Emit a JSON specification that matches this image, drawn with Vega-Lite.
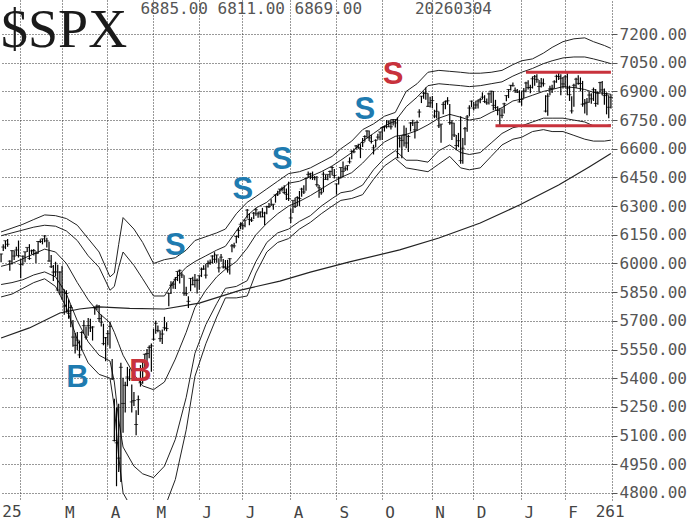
{
"$schema":"https://vega.github.io/schema/vega-lite/v6.json",
"width":612,"height":500,"autosize":{"type":"none"},"padding":{"left":0,"top":0,"right":88,"bottom":23},
"background":"white",
"config":{"view":{"stroke":null},"font":"DejaVu Sans Mono"},
"datasets":{
"px":[
{"d":"2025-01-21","h":6051,"l":6006,"c":6049},{"d":"2025-01-22","h":6100,"l":6065,"c":6086},{"d":"2025-01-23","h":6119,"l":6075,"c":6119},{"d":"2025-01-24","h":6128,"l":6088,"c":6101},{"d":"2025-01-27","h":6017,"l":5962,"c":6012},{"d":"2025-01-28","h":6069,"l":5995,"c":6067},{"d":"2025-01-29","h":6068,"l":6018,"c":6039},{"d":"2025-01-30","h":6087,"l":6040,"c":6071},{"d":"2025-01-31","h":6120,"l":6031,"c":6041},
{"d":"2025-02-03","h":6022,"l":5923,"c":5995},{"d":"2025-02-04","h":6042,"l":5990,"c":6038},{"d":"2025-02-05","h":6062,"l":6007,"c":6061},{"d":"2025-02-06","h":6084,"l":6060,"c":6084},{"d":"2025-02-07","h":6101,"l":6019,"c":6026},{"d":"2025-02-10","h":6073,"l":6048,"c":6066},{"d":"2025-02-11","h":6076,"l":6042,"c":6068},{"d":"2025-02-12","h":6064,"l":6003,"c":6052},{"d":"2025-02-13","h":6116,"l":6051,"c":6115},{"d":"2025-02-14","h":6127,"l":6107,"c":6115},{"d":"2025-02-18","h":6129,"l":6100,"c":6129},{"d":"2025-02-19","h":6147,"l":6111,"c":6144},{"d":"2025-02-20","h":6134,"l":6084,"c":6118},{"d":"2025-02-21","h":6114,"l":6009,"c":6013},{"d":"2025-02-24","h":6044,"l":5977,"c":5983},{"d":"2025-02-25","h":5992,"l":5909,"c":5955},{"d":"2025-02-26","h":6009,"l":5933,"c":5956},{"d":"2025-02-27","h":5994,"l":5858,"c":5861},{"d":"2025-02-28","h":5959,"l":5837,"c":5955},
{"d":"2025-03-03","h":5987,"l":5810,"c":5850},{"d":"2025-03-04","h":5865,"l":5732,"c":5778},{"d":"2025-03-05","h":5860,"l":5743,"c":5843},{"d":"2025-03-06","h":5812,"l":5711,"c":5739},{"d":"2025-03-07","h":5783,"l":5667,"c":5770},{"d":"2025-03-10","h":5705,"l":5565,"c":5615},{"d":"2025-03-11","h":5636,"l":5529,"c":5572},{"d":"2025-03-12","h":5642,"l":5546,"c":5599},{"d":"2025-03-13","h":5597,"l":5505,"c":5522},{"d":"2025-03-14","h":5645,"l":5546,"c":5639},{"d":"2025-03-17","h":5703,"l":5632,"c":5675},{"d":"2025-03-18","h":5670,"l":5602,"c":5615},{"d":"2025-03-19","h":5715,"l":5622,"c":5675},{"d":"2025-03-20","h":5711,"l":5641,"c":5663},{"d":"2025-03-21","h":5672,"l":5597,"c":5668},{"d":"2025-03-24","h":5775,"l":5732,"c":5768},{"d":"2025-03-25","h":5786,"l":5757,"c":5777},{"d":"2025-03-26","h":5783,"l":5695,"c":5712},{"d":"2025-03-27","h":5732,"l":5670,"c":5693},{"d":"2025-03-28","h":5685,"l":5572,"c":5581},{"d":"2025-03-31","h":5615,"l":5489,"c":5612},
{"d":"2025-04-01","h":5651,"l":5572,"c":5633},{"d":"2025-04-02","h":5695,"l":5555,"c":5671},{"d":"2025-04-03","h":5500,"l":5390,"c":5397},{"d":"2025-04-04","h":5292,"l":5069,"c":5074},{"d":"2025-04-07","h":5247,"l":4835,"c":5062},{"d":"2025-04-08","h":5267,"l":4910,"c":4982},{"d":"2025-04-09","h":5481,"l":4857,"c":5457},{"d":"2025-04-10","h":5402,"l":5115,"c":5268},{"d":"2025-04-11","h":5381,"l":5220,"c":5363},{"d":"2025-04-14","h":5459,"l":5358,"c":5406},{"d":"2025-04-15","h":5450,"l":5386,"c":5397},{"d":"2025-04-16","h":5367,"l":5220,"c":5276},{"d":"2025-04-17","h":5328,"l":5255,"c":5283},{"d":"2025-04-21","h":5232,"l":5101,"c":5158},{"d":"2025-04-22","h":5309,"l":5207,"c":5288},{"d":"2025-04-23","h":5469,"l":5356,"c":5376},{"d":"2025-04-24","h":5489,"l":5371,"c":5485},{"d":"2025-04-25","h":5528,"l":5455,"c":5525},{"d":"2025-04-28","h":5553,"l":5468,"c":5529},{"d":"2025-04-29","h":5571,"l":5505,"c":5561},{"d":"2025-04-30","h":5581,"l":5434,"c":5569},
{"d":"2025-05-01","h":5658,"l":5597,"c":5604},{"d":"2025-05-02","h":5700,"l":5632,"c":5687},{"d":"2025-05-05","h":5676,"l":5640,"c":5650},{"d":"2025-05-06","h":5649,"l":5590,"c":5607},{"d":"2025-05-07","h":5655,"l":5579,"c":5631},{"d":"2025-05-08","h":5721,"l":5649,"c":5664},{"d":"2025-05-09","h":5692,"l":5645,"c":5660},{"d":"2025-05-12","h":5845,"l":5776,"c":5844},{"d":"2025-05-13","h":5907,"l":5840,"c":5886},{"d":"2025-05-14","h":5906,"l":5868,"c":5892},{"d":"2025-05-15","h":5929,"l":5867,"c":5917},{"d":"2025-05-16","h":5958,"l":5908,"c":5958},{"d":"2025-05-19","h":5969,"l":5895,"c":5964},{"d":"2025-05-20","h":5954,"l":5924,"c":5940},{"d":"2025-05-21","h":5938,"l":5831,"c":5845},{"d":"2025-05-22","h":5878,"l":5830,"c":5842},{"d":"2025-05-23","h":5829,"l":5767,"c":5802},{"d":"2025-05-27","h":5924,"l":5855,"c":5922},{"d":"2025-05-28","h":5930,"l":5886,"c":5889},{"d":"2025-05-29","h":5945,"l":5874,"c":5912},{"d":"2025-05-30","h":5922,"l":5843,"c":5912},
{"d":"2025-06-02","h":5937,"l":5862,"c":5936},{"d":"2025-06-03","h":5979,"l":5929,"c":5970},{"d":"2025-06-04","h":5991,"l":5967,"c":5971},{"d":"2025-06-05","h":5999,"l":5921,"c":5939},{"d":"2025-06-06","h":6016,"l":5979,"c":6000},{"d":"2025-06-09","h":6021,"l":5993,"c":6006},{"d":"2025-06-10","h":6043,"l":6000,"c":6039},{"d":"2025-06-11","h":6059,"l":6003,"c":6022},{"d":"2025-06-12","h":6045,"l":6004,"c":6045},{"d":"2025-06-13","h":6027,"l":5953,"c":5977},{"d":"2025-06-16","h":6050,"l":6009,"c":6033},{"d":"2025-06-17","h":6024,"l":5974,"c":5982},{"d":"2025-06-18","h":6018,"l":5971,"c":5981},{"d":"2025-06-20","h":6019,"l":5952,"c":5967},{"d":"2025-06-23","h":6028,"l":5943,"c":6025},{"d":"2025-06-24","h":6102,"l":6059,"c":6092},{"d":"2025-06-25","h":6108,"l":6080,"c":6092},{"d":"2025-06-26","h":6146,"l":6106,"c":6141},{"d":"2025-06-27","h":6187,"l":6133,"c":6173},{"d":"2025-06-30","h":6216,"l":6179,"c":6205},
{"d":"2025-07-01","h":6210,"l":6178,"c":6198},{"d":"2025-07-02","h":6228,"l":6190,"c":6227},{"d":"2025-07-03","h":6285,"l":6235,"c":6279},{"d":"2025-07-07","h":6263,"l":6200,"c":6230},{"d":"2025-07-08","h":6242,"l":6217,"c":6226},{"d":"2025-07-09","h":6269,"l":6233,"c":6263},{"d":"2025-07-10","h":6290,"l":6249,"c":6281},{"d":"2025-07-11","h":6270,"l":6239,"c":6260},{"d":"2025-07-14","h":6272,"l":6241,"c":6269},{"d":"2025-07-15","h":6291,"l":6242,"c":6244},{"d":"2025-07-16","h":6270,"l":6201,"c":6264},{"d":"2025-07-17","h":6302,"l":6258,"c":6297},{"d":"2025-07-18","h":6316,"l":6290,"c":6297},{"d":"2025-07-21","h":6336,"l":6302,"c":6306},{"d":"2025-07-22","h":6310,"l":6281,"c":6310},{"d":"2025-07-23","h":6360,"l":6318,"c":6359},{"d":"2025-07-24","h":6381,"l":6353,"c":6363},{"d":"2025-07-25","h":6390,"l":6364,"c":6389},{"d":"2025-07-28","h":6401,"l":6377,"c":6390},{"d":"2025-07-29","h":6409,"l":6364,"c":6371},{"d":"2025-07-30","h":6392,"l":6332,"c":6362},{"d":"2025-07-31","h":6428,"l":6327,"c":6339},
{"d":"2025-08-01","h":6288,"l":6212,"c":6238},{"d":"2025-08-04","h":6330,"l":6264,"c":6330},{"d":"2025-08-05","h":6344,"l":6290,"c":6299},{"d":"2025-08-06","h":6352,"l":6301,"c":6345},{"d":"2025-08-07","h":6379,"l":6301,"c":6340},{"d":"2025-08-08","h":6396,"l":6349,"c":6389},{"d":"2025-08-11","h":6409,"l":6364,"c":6374},{"d":"2025-08-12","h":6446,"l":6380,"c":6446},{"d":"2025-08-13","h":6481,"l":6447,"c":6466},{"d":"2025-08-14","h":6474,"l":6441,"c":6469},{"d":"2025-08-15","h":6481,"l":6437,"c":6450},{"d":"2025-08-18","h":6457,"l":6435,"c":6449},{"d":"2025-08-19","h":6457,"l":6401,"c":6412},{"d":"2025-08-20","h":6410,"l":6344,"c":6396},{"d":"2025-08-21","h":6393,"l":6360,"c":6370},{"d":"2025-08-22","h":6481,"l":6373,"c":6467},{"d":"2025-08-25","h":6466,"l":6438,"c":6440},{"d":"2025-08-26","h":6466,"l":6435,"c":6466},{"d":"2025-08-27","h":6486,"l":6448,"c":6481},{"d":"2025-08-28","h":6508,"l":6462,"c":6502},{"d":"2025-08-29","h":6494,"l":6444,"c":6460},
{"d":"2025-09-02","h":6418,"l":6360,"c":6416},{"d":"2025-09-03","h":6455,"l":6413,"c":6448},{"d":"2025-09-04","h":6502,"l":6445,"c":6502},{"d":"2025-09-05","h":6533,"l":6450,"c":6482},{"d":"2025-09-08","h":6508,"l":6484,"c":6495},{"d":"2025-09-09","h":6513,"l":6486,"c":6512},{"d":"2025-09-10","h":6555,"l":6522,"c":6532},{"d":"2025-09-11","h":6592,"l":6545,"c":6587},{"d":"2025-09-12","h":6601,"l":6577,"c":6584},{"d":"2025-09-15","h":6619,"l":6596,"c":6615},{"d":"2025-09-16","h":6626,"l":6600,"c":6606},{"d":"2025-09-17","h":6624,"l":6551,"c":6600},{"d":"2025-09-18","h":6656,"l":6609,"c":6632},{"d":"2025-09-19","h":6671,"l":6637,"c":6664},{"d":"2025-09-22","h":6697,"l":6658,"c":6693},{"d":"2025-09-23","h":6696,"l":6640,"c":6657},{"d":"2025-09-24","h":6673,"l":6627,"c":6638},{"d":"2025-09-25","h":6621,"l":6570,"c":6605},{"d":"2025-09-26","h":6650,"l":6608,"c":6644},{"d":"2025-09-29","h":6679,"l":6647,"c":6661},{"d":"2025-09-30","h":6689,"l":6644,"c":6688},
{"d":"2025-10-01","h":6715,"l":6646,"c":6711},{"d":"2025-10-02","h":6720,"l":6690,"c":6715},{"d":"2025-10-03","h":6750,"l":6706,"c":6716},{"d":"2025-10-06","h":6749,"l":6712,"c":6740},{"d":"2025-10-07","h":6754,"l":6701,"c":6715},{"d":"2025-10-08","h":6756,"l":6721,"c":6753},{"d":"2025-10-09","h":6756,"l":6711,"c":6735},{"d":"2025-10-10","h":6764,"l":6551,"c":6553},{"d":"2025-10-13","h":6665,"l":6606,"c":6655},{"d":"2025-10-14","h":6670,"l":6550,"c":6644},{"d":"2025-10-15","h":6722,"l":6612,"c":6671},{"d":"2025-10-16","h":6710,"l":6603,"c":6630},{"d":"2025-10-17","h":6673,"l":6583,"c":6664},{"d":"2025-10-20","h":6740,"l":6690,"c":6735},{"d":"2025-10-21","h":6752,"l":6719,"c":6735},{"d":"2025-10-22","h":6741,"l":6653,"c":6699},{"d":"2025-10-23","h":6747,"l":6695,"c":6738},{"d":"2025-10-24","h":6807,"l":6763,"c":6792},{"d":"2025-10-27","h":6876,"l":6839,"c":6875},{"d":"2025-10-28","h":6899,"l":6862,"c":6891},{"d":"2025-10-29","h":6920,"l":6856,"c":6890},{"d":"2025-10-30","h":6890,"l":6819,"c":6822},{"d":"2025-10-31","h":6872,"l":6816,"c":6840},
{"d":"2025-11-03","h":6876,"l":6813,"c":6852},{"d":"2025-11-04","h":6804,"l":6760,"c":6771},{"d":"2025-11-05","h":6839,"l":6758,"c":6796},{"d":"2025-11-06","h":6795,"l":6708,"c":6720},{"d":"2025-11-07","h":6730,"l":6631,"c":6729},{"d":"2025-11-10","h":6845,"l":6780,"c":6832},{"d":"2025-11-11","h":6852,"l":6807,"c":6846},{"d":"2025-11-12","h":6870,"l":6830,"c":6851},{"d":"2025-11-13","h":6834,"l":6726,"c":6737},{"d":"2025-11-14","h":6750,"l":6646,"c":6734},{"d":"2025-11-17","h":6736,"l":6662,"c":6672},{"d":"2025-11-18","h":6672,"l":6592,"c":6617},{"d":"2025-11-19","h":6683,"l":6608,"c":6642},{"d":"2025-11-20","h":6770,"l":6522,"c":6538},{"d":"2025-11-21","h":6656,"l":6522,"c":6603},{"d":"2025-11-24","h":6714,"l":6618,"c":6705},{"d":"2025-11-25","h":6776,"l":6689,"c":6766},{"d":"2025-11-26","h":6828,"l":6770,"c":6813},{"d":"2025-11-28","h":6852,"l":6818,"c":6849},
{"d":"2025-12-01","h":6844,"l":6800,"c":6813},{"d":"2025-12-02","h":6851,"l":6809,"c":6829},{"d":"2025-12-03","h":6857,"l":6810,"c":6850},{"d":"2025-12-04","h":6866,"l":6838,"c":6857},{"d":"2025-12-05","h":6895,"l":6858,"c":6870},{"d":"2025-12-08","h":6880,"l":6840,"c":6847},{"d":"2025-12-09","h":6863,"l":6830,"c":6840},{"d":"2025-12-10","h":6894,"l":6832,"c":6887},{"d":"2025-12-11","h":6903,"l":6839,"c":6901},{"d":"2025-12-12","h":6902,"l":6801,"c":6827},{"d":"2025-12-15","h":6856,"l":6804,"c":6816},{"d":"2025-12-16","h":6822,"l":6775,"c":6800},{"d":"2025-12-17","h":6810,"l":6718,"c":6721},{"d":"2025-12-18","h":6811,"l":6760,"c":6775},{"d":"2025-12-19","h":6840,"l":6785,"c":6835},{"d":"2025-12-22","h":6880,"l":6848,"c":6878},{"d":"2025-12-23","h":6911,"l":6865,"c":6910},{"d":"2025-12-24","h":6934,"l":6905,"c":6932},{"d":"2025-12-26","h":6946,"l":6925,"c":6930},{"d":"2025-12-29","h":6920,"l":6893,"c":6905},{"d":"2025-12-30","h":6912,"l":6892,"c":6896},{"d":"2025-12-31","h":6906,"l":6842,"c":6845},
{"d":"2026-01-02","h":6901,"l":6825,"c":6858},{"d":"2026-01-05","h":6918,"l":6865,"c":6902},{"d":"2026-01-06","h":6950,"l":6895,"c":6944},{"d":"2026-01-07","h":6958,"l":6910,"c":6920},{"d":"2026-01-08","h":6935,"l":6890,"c":6921},{"d":"2026-01-09","h":6978,"l":6915,"c":6966},{"d":"2026-01-12","h":6986,"l":6930,"c":6977},{"d":"2026-01-13","h":6990,"l":6945,"c":6963},{"d":"2026-01-14","h":6960,"l":6895,"c":6926},{"d":"2026-01-15","h":6970,"l":6920,"c":6944},{"d":"2026-01-16","h":6968,"l":6925,"c":6940},{"d":"2026-01-20","h":6880,"l":6790,"c":6797},{"d":"2026-01-21","h":6890,"l":6772,"c":6875},{"d":"2026-01-22","h":6930,"l":6880,"c":6913},{"d":"2026-01-23","h":6935,"l":6892,"c":6916},{"d":"2026-01-26","h":6958,"l":6915,"c":6950},{"d":"2026-01-27","h":6988,"l":6945,"c":6979},{"d":"2026-01-28","h":7002,"l":6960,"c":6978},{"d":"2026-01-29","h":6990,"l":6880,"c":6969},{"d":"2026-01-30","h":6975,"l":6915,"c":6939},
{"d":"2026-02-02","h":6985,"l":6920,"c":6976},{"d":"2026-02-03","h":6995,"l":6880,"c":6917},{"d":"2026-02-04","h":6930,"l":6850,"c":6883},{"d":"2026-02-05","h":6875,"l":6785,"c":6798},{"d":"2026-02-06","h":6940,"l":6820,"c":6932},{"d":"2026-02-09","h":6972,"l":6918,"c":6964},{"d":"2026-02-10","h":6985,"l":6935,"c":6942},{"d":"2026-02-11","h":6973,"l":6900,"c":6941},{"d":"2026-02-12","h":6955,"l":6820,"c":6833},{"d":"2026-02-13","h":6860,"l":6785,"c":6836},{"d":"2026-02-17","h":6865,"l":6775,"c":6843},{"d":"2026-02-18","h":6900,"l":6840,"c":6881},{"d":"2026-02-19","h":6890,"l":6835,"c":6861},{"d":"2026-02-20","h":6920,"l":6850,"c":6909},{"d":"2026-02-23","h":6912,"l":6820,"c":6837},{"d":"2026-02-24","h":6900,"l":6830,"c":6890},{"d":"2026-02-25","h":6950,"l":6895,"c":6946},{"d":"2026-02-26","h":6955,"l":6880,"c":6908},{"d":"2026-02-27","h":6915,"l":6830,"c":6878},
{"d":"2026-03-02","h":6895,"l":6780,"c":6881},{"d":"2026-03-03","h":6880,"l":6760,"c":6817},{"d":"2026-03-04","h":6885,"l":6811,"c":6869}
],
"bb":[
{"d":"2025-01-21","u2":6165,"u1":6145,"m":5985,"l1":5890,"l2":5825},
{"d":"2025-01-28","u2":6185,"u1":6160,"m":6000,"l1":5900,"l2":5840},
{"d":"2025-02-04","u2":6205,"u1":6175,"m":6025,"l1":5915,"l2":5870},
{"d":"2025-02-11","u2":6230,"u1":6190,"m":6050,"l1":5940,"l2":5900},
{"d":"2025-02-19","u2":6254,"u1":6200,"m":6075,"l1":5956,"l2":5920},
{"d":"2025-02-26","u2":6250,"u1":6195,"m":6060,"l1":5930,"l2":5880},
{"d":"2025-03-05","u2":6235,"u1":6170,"m":6000,"l1":5840,"l2":5770},
{"d":"2025-03-12","u2":6200,"u1":6120,"m":5900,"l1":5700,"l2":5600},
{"d":"2025-03-19","u2":6130,"u1":6040,"m":5810,"l1":5590,"l2":5480},
{"d":"2025-03-26","u2":6060,"u1":5980,"m":5740,"l1":5520,"l2":5420},
{"d":"2025-04-02","u2":5930,"u1":5860,"m":5690,"l1":5490,"l2":5400},
{"d":"2025-04-04","u2":5950,"u1":5880,"m":5640,"l1":5380,"l2":5250},
{"d":"2025-04-08","u2":6100,"u1":5980,"m":5580,"l1":5180,"l2":4990},
{"d":"2025-04-10","u2":6240,"u1":6060,"m":5520,"l1":5040,"l2":4800},
{"d":"2025-04-17","u2":6180,"u1":5990,"m":5420,"l1":4940,"l2":4700},
{"d":"2025-04-24","u2":6110,"u1":5920,"m":5360,"l1":4900,"l2":4680},
{"d":"2025-05-01","u2":6000,"u1":5830,"m":5340,"l1":4880,"l2":4650},
{"d":"2025-05-08","u2":6020,"u1":5830,"m":5380,"l1":4940,"l2":4720},
{"d":"2025-05-15","u2":6030,"u1":5920,"m":5500,"l1":5080,"l2":4870},
{"d":"2025-05-22","u2":6070,"u1":5980,"m":5640,"l1":5300,"l2":5130},
{"d":"2025-05-29","u2":6120,"u1":6010,"m":5770,"l1":5530,"l2":5410},
{"d":"2025-06-05","u2":6140,"u1":6040,"m":5860,"l1":5680,"l2":5580},
{"d":"2025-06-12","u2":6160,"u1":6070,"m":5930,"l1":5790,"l2":5720},
{"d":"2025-06-18","u2":6180,"u1":6090,"m":5970,"l1":5870,"l2":5820},
{"d":"2025-06-26","u2":6260,"u1":6170,"m":6010,"l1":5880,"l2":5820},
{"d":"2025-07-03","u2":6320,"u1":6250,"m":6080,"l1":5910,"l2":5830},
{"d":"2025-07-10","u2":6350,"u1":6290,"m":6150,"l1":6010,"l2":5950},
{"d":"2025-07-17","u2":6390,"u1":6320,"m":6210,"l1":6110,"l2":6060},
{"d":"2025-07-24","u2":6430,"u1":6370,"m":6260,"l1":6160,"l2":6110},
{"d":"2025-07-31","u2":6470,"u1":6420,"m":6300,"l1":6180,"l2":6130},
{"d":"2025-08-07","u2":6480,"u1":6430,"m":6325,"l1":6220,"l2":6180},
{"d":"2025-08-14","u2":6500,"u1":6455,"m":6355,"l1":6250,"l2":6215},
{"d":"2025-08-21","u2":6530,"u1":6480,"m":6390,"l1":6300,"l2":6260},
{"d":"2025-08-28","u2":6560,"u1":6510,"m":6425,"l1":6340,"l2":6300},
{"d":"2025-09-04","u2":6600,"u1":6540,"m":6450,"l1":6370,"l2":6330},
{"d":"2025-09-11","u2":6640,"u1":6580,"m":6475,"l1":6380,"l2":6340},
{"d":"2025-09-18","u2":6700,"u1":6640,"m":6525,"l1":6410,"l2":6360},
{"d":"2025-09-25","u2":6730,"u1":6680,"m":6585,"l1":6490,"l2":6440},
{"d":"2025-10-02","u2":6770,"u1":6720,"m":6635,"l1":6550,"l2":6510},
{"d":"2025-10-09","u2":6790,"u1":6745,"m":6665,"l1":6590,"l2":6550},
{"d":"2025-10-16","u2":6900,"u1":6820,"m":6675,"l1":6540,"l2":6500},
{"d":"2025-10-23","u2":6940,"u1":6870,"m":6695,"l1":6540,"l2":6490},
{"d":"2025-10-30","u2":7000,"u1":6930,"m":6725,"l1":6530,"l2":6480},
{"d":"2025-11-06","u2":7010,"u1":6940,"m":6760,"l1":6590,"l2":6520},
{"d":"2025-11-13","u2":7005,"u1":6935,"m":6780,"l1":6620,"l2":6560},
{"d":"2025-11-20","u2":7000,"u1":6930,"m":6765,"l1":6580,"l2":6500},
{"d":"2025-11-26","u2":6995,"u1":6925,"m":6750,"l1":6570,"l2":6490},
{"d":"2025-12-04","u2":6995,"u1":6930,"m":6760,"l1":6580,"l2":6500},
{"d":"2025-12-11","u2":7000,"u1":6940,"m":6790,"l1":6630,"l2":6560},
{"d":"2025-12-18","u2":7010,"u1":6950,"m":6815,"l1":6680,"l2":6620},
{"d":"2025-12-26","u2":7040,"u1":6980,"m":6850,"l1":6710,"l2":6650},
{"d":"2026-01-02","u2":7060,"u1":7000,"m":6860,"l1":6720,"l2":6660},
{"d":"2026-01-09","u2":7070,"u1":7020,"m":6880,"l1":6740,"l2":6690},
{"d":"2026-01-16","u2":7100,"u1":7045,"m":6900,"l1":6760,"l2":6700},
{"d":"2026-01-23","u2":7130,"u1":7060,"m":6910,"l1":6760,"l2":6690},
{"d":"2026-01-30","u2":7160,"u1":7075,"m":6925,"l1":6760,"l2":6690},
{"d":"2026-02-06","u2":7175,"u1":7080,"m":6920,"l1":6750,"l2":6670},
{"d":"2026-02-13","u2":7180,"u1":7080,"m":6910,"l1":6740,"l2":6650},
{"d":"2026-02-20","u2":7160,"u1":7070,"m":6895,"l1":6720,"l2":6640},
{"d":"2026-02-27","u2":7140,"u1":7055,"m":6890,"l1":6720,"l2":6640},
{"d":"2026-03-04","u2":7125,"u1":7045,"m":6885,"l1":6725,"l2":6645}
],
"ma":[
{"d":"2025-01-21","v":5610},{"d":"2025-02-07","v":5663},{"d":"2025-02-28","v":5741},{"d":"2025-03-13","v":5762},{"d":"2025-03-26","v":5773},{"d":"2025-04-15","v":5765},{"d":"2025-05-08","v":5762},{"d":"2025-06-02","v":5793},{"d":"2025-06-30","v":5861},{"d":"2025-07-25","v":5908},{"d":"2025-08-14","v":5955},{"d":"2025-09-10","v":6008},{"d":"2025-10-13","v":6071},{"d":"2025-11-06","v":6133},{"d":"2025-12-04","v":6212},{"d":"2025-12-31","v":6306},{"d":"2026-01-28","v":6410},{"d":"2026-02-18","v":6505},{"d":"2026-03-04","v":6575}
],
"sig":[
{"d":"2025-03-12","v":5400,"t":"B","k":"mBB"},{"d":"2025-04-23","v":5433,"t":"B","k":"other"},{"d":"2025-05-15","v":6092,"t":"S","k":"mBB"},{"d":"2025-07-01","v":6384,"t":"S","k":"mBB"},{"d":"2025-07-28","v":6541,"t":"S","k":"mBB"},{"d":"2025-09-19","v":6803,"t":"S","k":"mBB"},{"d":"2025-10-08","v":6986,"t":"S","k":"other"}
],
"red":[
{"d":"2026-01-06","v":7000,"g":"top"},{"d":"2026-03-04","v":7000,"g":"top"},{"d":"2025-12-15","v":6720,"g":"bottom"},{"d":"2026-03-04","v":6720,"g":"bottom"}
]
},
"encoding":{
"x":{"field":"d","type":"ordinal","title":null,"scale":{"padding":0},
"axis":{"title":null,"tickCount":30,"values":["2025-02-03","2025-03-03","2025-04-01","2025-05-01","2025-06-02","2025-07-01","2025-08-01","2025-09-02","2025-10-01","2025-11-03","2025-12-01","2026-01-02","2026-02-02"],
"labelExpr":"datum.value == '2025-02-03' ? '' : ['J','F','M','A','M','J','J','A','S','O','N','D'][toNumber(substring(datum.value,5,7))-1]",
"labelAngle":0,"labelAlign":"left","labelBaseline":"top","labelPadding":4,"labelOffset":3,"labelOverlap":false,"labelFont":"DejaVu Sans Mono","labelFontSize":16,"labelColor":"#444",
"grid":true,"gridDash":[1,2],"gridColor":"#333","gridWidth":1,"domain":false,"ticks":false}}
},
"layer":[
{"data":{"name":"bb"},"mark":{"type":"line","color":"#222","strokeWidth":1},
 "encoding":{"y":{"field":"u2","type":"quantitative","title":null,"scale":{"domain":[4763,7378],"nice":false,"zero":false},
 "axis":{"title":null,"orient":"right","tickCount":40,"values":[4800,4950,5100,5250,5400,5550,5700,5850,6000,6150,6300,6450,6600,6750,6900,7050,7200],"format":".2f","labelOverlap":false,"labelFont":"DejaVu Sans Mono","labelFontSize":16,"labelColor":"#555","labelPadding":2,"tickSize":5,"tickColor":"#555","domain":true,"domainDash":[1,2],"domainColor":"#333","grid":true,"gridDash":[1,2],"gridColor":"#333","gridWidth":1}}}},
{"data":{"name":"bb"},"mark":{"type":"line","color":"#222","strokeWidth":1},"encoding":{"y":{"field":"u1","type":"quantitative","title":null}}},
{"data":{"name":"bb"},"mark":{"type":"line","color":"#222","strokeWidth":1},"encoding":{"y":{"field":"m","type":"quantitative","title":null}}},
{"data":{"name":"bb"},"mark":{"type":"line","color":"#222","strokeWidth":1,"clip":true},"encoding":{"y":{"field":"l1","type":"quantitative","title":null}}},
{"data":{"name":"bb"},"mark":{"type":"line","color":"#222","strokeWidth":1,"clip":true},"encoding":{"y":{"field":"l2","type":"quantitative","title":null}}},
{"data":{"name":"ma"},"mark":{"type":"line","color":"#222","strokeWidth":1.2},"encoding":{"y":{"field":"v","type":"quantitative","title":null}}},
{"data":{"name":"px"},"mark":{"type":"rule","color":"#000","strokeWidth":1.2},"encoding":{"y":{"field":"l","type":"quantitative","title":null},"y2":{"field":"h"}}},
{"data":{"name":"px"},"mark":{"type":"tick","color":"#000","size":4,"thickness":1,"orient":"horizontal"},"encoding":{"y":{"field":"c","type":"quantitative","title":null}}},
{"data":{"name":"red"},"mark":{"type":"line","color":"#c8323c","strokeWidth":3},"encoding":{"y":{"field":"v","type":"quantitative","title":null},"detail":{"field":"g"}}},
{"data":{"name":"sig"},"mark":{"type":"text","font":"Liberation Sans","fontWeight":"bold","fontSize":31,"baseline":"middle","align":"center"},
 "encoding":{"y":{"field":"v","type":"quantitative","title":null},"text":{"field":"t"},
 "color":{"field":"k","type":"nominal","legend":null,"scale":{"domain":["mBB","other"],"range":["#1f7bb0","#c8323c"]}}}},
{"data":{"values":[{"label":"$SPX"}]},"mark":{"type":"text","font":"Liberation Serif","fontSize":54,"align":"left","baseline":"top","color":"#1a1a1a","dy":4},
 "encoding":{"x":{"datum":"2025-01-21","type":"ordinal","title":null},"y":{"datum":7378,"type":"quantitative","title":null},"text":{"field":"label"}}},
{"data":{"values":[{"label":"6885.00 6811.00 6869.00"}]},"mark":{"type":"text","font":"DejaVu Sans Mono","fontSize":16,"align":"left","baseline":"top","color":"#555","dy":1},
 "encoding":{"x":{"datum":"2025-04-23","type":"ordinal","title":null},"y":{"datum":7378,"type":"quantitative","title":null},"text":{"field":"label"}}},
{"data":{"values":[{"label":"20260304"}]},"mark":{"type":"text","font":"DejaVu Sans Mono","fontSize":16,"align":"left","baseline":"top","color":"#555","dy":1},
 "encoding":{"x":{"datum":"2025-10-22","type":"ordinal","title":null},"y":{"datum":7378,"type":"quantitative","title":null},"text":{"field":"label"}}},
{"data":{"values":[{"label":"25"}]},"mark":{"type":"text","font":"DejaVu Sans Mono","fontSize":16,"align":"center","baseline":"middle","color":"#444"},
 "encoding":{"x":{"datum":"2025-01-28","type":"ordinal","title":null},"y":{"datum":4700,"type":"quantitative","title":null},"text":{"field":"label"}}},
{"data":{"values":[{"label":"261"}]},"mark":{"type":"text","font":"DejaVu Sans Mono","fontSize":16,"align":"left","baseline":"middle","color":"#444"},
 "encoding":{"x":{"datum":"2026-02-23","type":"ordinal","title":null},"y":{"datum":4700,"type":"quantitative","title":null},"text":{"field":"label"}}}
]
}
